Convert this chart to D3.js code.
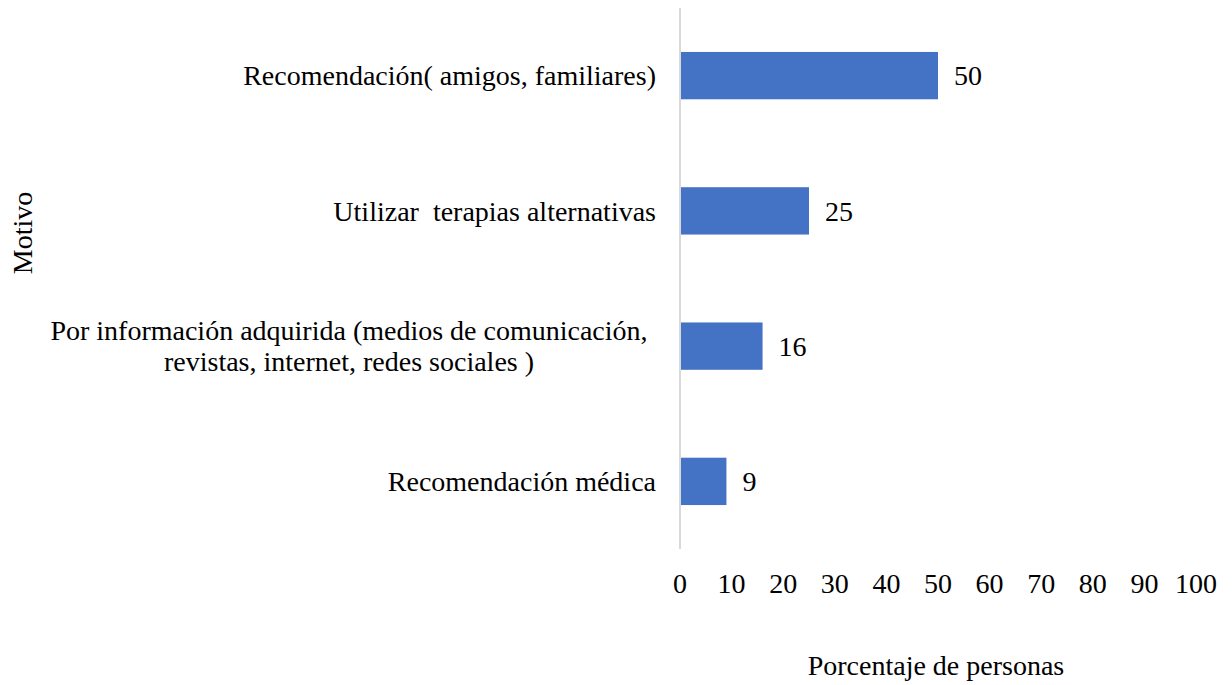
<!DOCTYPE html>
<html>
<head>
<meta charset="utf-8">
<script src="https://cdn.jsdelivr.net/npm/d3@7"></script>
<style>
  body { margin: 0; background: #fff; }
  text { font-family: "Liberation Serif", "Times New Roman", serif; fill: #000; white-space: pre; }
</style>
</head>
<body>
<svg id="chart" width="1232" height="685"></svg>
<script>
const categories = [
    ["Recomendación( amigos, familiares)"],
    ["Utilizar  terapias alternativas"],
    ["Por información adquirida (medios de comunicación,", "revistas, internet, redes sociales )"],
    ["Recomendación médica"]
];
const values = [50, 25, 16, 9];
const xTicks = [0, 10, 20, 30, 40, 50, 60, 70, 80, 90, 100];

const svg = d3.select("#chart");
const fontSize = 28;

const x = d3.scaleLinear().domain([0, 100]).range([680, 1196]);
const y = d3.scaleBand().domain(d3.range(values.length)).range([8, 549]).paddingInner(0.65).paddingOuter(0.325);

// axis line
svg.append("line")
    .attr("x1", x(0)).attr("x2", x(0))
    .attr("y1", 8).attr("y2", 549)
    .attr("stroke", "#d9d9d9").attr("stroke-width", 2);

// bars
svg.selectAll("rect.bar")
    .data(values)
    .enter()
    .append("rect")
    .attr("class", "bar")
    .attr("x", x(0) + 1)
    .attr("y", (d, i) => y(i))
    .attr("width", d => x(d) - x(0) - 1)
    .attr("height", y.bandwidth())
    .attr("fill", "#4472c4");

// value labels
svg.selectAll("text.val")
    .data(values)
    .enter()
    .append("text")
    .attr("class", "val")
    .attr("x", d => x(d) + 16)
    .attr("y", (d, i) => y(i) + y.bandwidth() / 2)
    .attr("dy", "0.35em")
    .style("font-size", fontSize + "px")
    .text(d => d);

// category labels
const lineH = 31;
categories.forEach((lines, i) => {
    const cy = y(i) + y.bandwidth() / 2;
    const t = svg.append("text")
        .attr("text-anchor", lines.length > 1 ? "middle" : "end")
        .style("font-size", fontSize + "px");
    lines.forEach((l, j) => {
        t.append("tspan")
            .attr("x", lines.length > 1 ? 349 : 656)
            .attr("y", cy + (j - (lines.length - 1) / 2) * lineH)
            .attr("dy", "0.35em")
            .text(l);
    });
});

// x tick labels
svg.selectAll("text.tick")
    .data(xTicks)
    .enter()
    .append("text")
    .attr("class", "tick")
    .attr("x", d => x(d))
    .attr("y", 583)
    .attr("dy", "0.35em")
    .attr("text-anchor", "middle")
    .style("font-size", fontSize + "px")
    .text(d => d);

// axis titles
svg.append("text")
    .attr("x", 936)
    .attr("y", 665)
    .attr("dy", "0.35em")
    .attr("text-anchor", "middle")
    .style("font-size", fontSize + "px")
    .text("Porcentaje de personas");

svg.append("text")
    .attr("transform", "translate(22,233) rotate(-90)")
    .attr("dy", "0.35em")
    .attr("text-anchor", "middle")
    .style("font-size", fontSize + "px")
    .text("Motivo");
</script>
</body>
</html>
